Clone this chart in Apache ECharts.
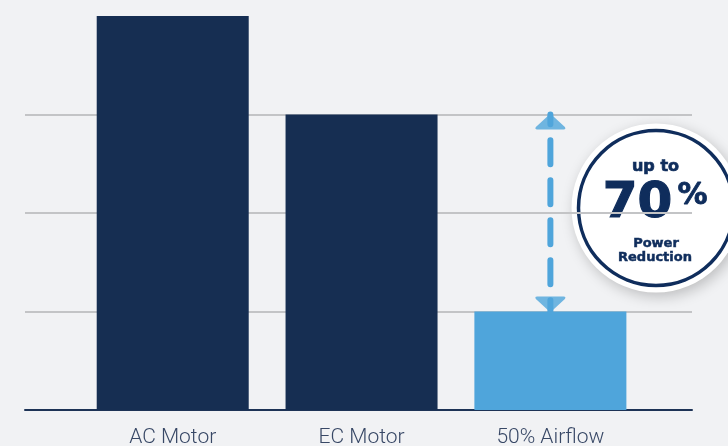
<!DOCTYPE html>
<html>
<head>
<meta charset="utf-8">
<style>
  html, body { margin: 0; padding: 0; background: #f1f2f4; }
  #chart { width: 728px; height: 446px; }
</style>
<script src="https://cdn.jsdelivr.net/npm/echarts@6/dist/echarts.min.js"></script>
</head>
<body>
<div id="chart"></div>
<script>
// ---- data ----
const categories = ['AC Motor', 'EC Motor', '50% Airflow'];
const powerValues = [4, 3, 1];
const axisTicks = [0, 1, 2, 3, 4];
const badgeLines = ['up to', '70', '%', 'Power', 'Reduction'];

// ---- styles ----
const NAVY = '#162e52';
const BLUE = '#4fa5db';
const BADGE_NAVY = '#0f2d5c';
const barColors = [NAVY, NAVY, BLUE];
const ROUND_TRIANGLE = 'path://M13.3,1.2 Q15,-0.4 16.7,1.2 L29.2,12.6 Q30.6,15 28,15 L2,15 Q-0.6,15 0.8,12.6 Z';
const BADGE_FONT = '"DejaVu Sans"';

const chart = echarts.init(document.getElementById('chart'), null, { renderer: 'canvas' });

const yMin = axisTicks[0], yMax = axisTicks[axisTicks.length - 1];

function badgeText(x, y, text, size, strokeW) {
  return {
    type: 'text', x: x, y: y,
    style: {
      text: text, fill: BADGE_NAVY, stroke: BADGE_NAVY, lineWidth: strokeW,
      font: 'bold ' + size + 'px ' + BADGE_FONT, align: 'center', verticalAlign: 'middle'
    }
  };
}

const option = {
  backgroundColor: '#f1f2f4',
  animation: false,
  grid: [
    { left: 25, right: 36, top: 16, bottom: 36, outerBoundsMode: 'none', containLabel: false },
    { left: 78.3, right: 83.2, top: 16, bottom: 36, outerBoundsMode: 'none', containLabel: false }
  ],
  xAxis: [
    {
      gridIndex: 0, type: 'category', data: categories,
      axisLine: { show: true, lineStyle: { color: '#1d3356', width: 2 } },
      axisTick: { show: false }, axisLabel: { show: false }, splitLine: { show: false }
    },
    {
      gridIndex: 1, type: 'category', data: categories,
      axisLine: { show: false }, axisTick: { show: false },
      axisLabel: {
        show: true, margin: 17, fontFamily: 'Roboto', fontWeight: 300,
        fontSize: 21, color: '#384866'
      }
    }
  ],
  yAxis: [
    {
      gridIndex: 0, type: 'value', min: yMin, max: yMax, interval: 1,
      axisLine: { show: false }, axisTick: { show: false }, axisLabel: { show: false },
      splitLine: { show: true, showMinLine: false, showMaxLine: false,
        lineStyle: { color: '#c3c4c6', width: 2 } }
    },
    {
      gridIndex: 1, type: 'value', min: yMin, max: yMax, interval: 1,
      axisLine: { show: false }, axisTick: { show: false }, axisLabel: { show: false },
      splitLine: { show: false }
    }
  ],
  series: [
    {
      type: 'bar', xAxisIndex: 1, yAxisIndex: 1, barWidth: 152, z: 3,
      data: powerValues.map((v, i) => ({ value: v, itemStyle: { color: barColors[i] } }))
    },
    {
      type: 'line', xAxisIndex: 1, yAxisIndex: 1, z: 4, showSymbol: false, silent: true,
      data: [[2, powerValues[1]], [2, powerValues[2]]],
      lineStyle: { color: BLUE, width: 6, type: [24, 16], dashOffset: 14.3, cap: 'round' }
    },
    {
      type: 'scatter', xAxisIndex: 1, yAxisIndex: 1, z: 5, silent: true,
      symbol: ROUND_TRIANGLE, symbolSize: [30, 15],
      data: [
        { value: [2, powerValues[1]], symbolOffset: [0, 7.5] },
        { value: [2, powerValues[2]], symbolRotate: 180, symbolOffset: [0, -7.5] }
      ],
      itemStyle: { color: BLUE }
    }
  ],
  graphic: [
    {
      type: 'group', z: 100,
      children: [
        { type: 'circle', shape: { cx: 656, cy: 208, r: 84.5 },
          style: { fill: '#ffffff', shadowBlur: 14, shadowColor: 'rgba(0,0,0,0.22)', shadowOffsetX: 3, shadowOffsetY: 4 } },
        { type: 'circle', shape: { cx: 656, cy: 208, r: 77.5 },
          style: { fill: 'none', stroke: BADGE_NAVY, lineWidth: 3.5 } },
        badgeText(655.5, 167, badgeLines[0], 16, 0.7),
        badgeText(637.5, 204, badgeLines[1], 50, 1.2),
        badgeText(692.5, 196, badgeLines[2], 30, 0.8),
        badgeText(656, 244, badgeLines[3], 13, 0.5),
        badgeText(655, 257.5, badgeLines[4], 13, 0.5)
      ]
    }
  ]
};

chart.setOption(option);
</script>
</body>
</html>
